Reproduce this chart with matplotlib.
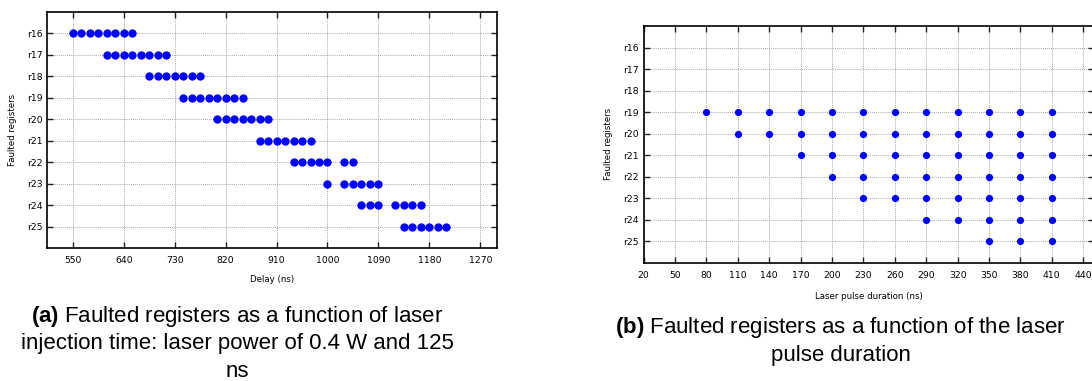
import matplotlib
matplotlib.use("Agg")
import matplotlib.pyplot as plt

plt.rcParams['font.family'] = ['DejaVu Sans']
plt.rcParams['mathtext.fontset'] = 'custom'
plt.rcParams['mathtext.rm'] = 'Liberation Sans'
plt.rcParams['mathtext.bf'] = 'Liberation Sans:bold'

registers = ['r16', 'r17', 'r18', 'r19', 'r20', 'r21', 'r22', 'r23', 'r24', 'r25']

# (a) delay (ns) at which each register was faulted
delay_hits = {
    'r16': [550, 565, 580, 595, 610, 625, 640, 655],
    'r17': [610, 625, 640, 655, 670, 685, 700, 715],
    'r18': [685, 700, 715, 730, 745, 760, 775],
    'r19': [745, 760, 775, 790, 805, 820, 835, 850],
    'r20': [805, 820, 835, 850, 865, 880, 895],
    'r21': [880, 895, 910, 925, 940, 955, 970],
    'r22': [940, 955, 970, 985, 1000, 1030, 1045],
    'r23': [1000, 1030, 1045, 1060, 1075, 1090],
    'r24': [1060, 1075, 1090, 1120, 1135, 1150, 1165],
    'r25': [1135, 1150, 1165, 1180, 1195, 1210],
}
delay_ticks = [550, 640, 730, 820, 910, 1000, 1090, 1180, 1270]

# (b) pulse duration (ns) at which each register was faulted
pulse_hits = {
    'r16': [],
    'r17': [],
    'r18': [],
    'r19': [80, 110, 140, 170, 200, 230, 260, 290, 320, 350, 380, 410],
    'r20': [110, 140, 170, 200, 230, 260, 290, 320, 350, 380, 410],
    'r21': [170, 200, 230, 260, 290, 320, 350, 380, 410],
    'r22': [200, 230, 260, 290, 320, 350, 380, 410],
    'r23': [230, 260, 290, 320, 350, 380, 410],
    'r24': [290, 320, 350, 380, 410],
    'r25': [350, 380, 410],
}
pulse_ticks = [20, 50, 80, 110, 140, 170, 200, 230, 260, 290, 320, 350, 380, 410, 440]

W, H = 1092, 381
fig = plt.figure(figsize=(W / 100, H / 100), dpi=100)

def px_axes(l, t, r, b):
    return fig.add_axes([l / W, 1 - b / H, (r - l) / W, (b - t) / H])

ax1 = px_axes(47.3, 12, 497.3, 248)
ax2 = px_axes(643.5, 26, 1093.7, 262.7)

def style(ax, hits, ticks, xlim, xlabel, xlabel_y, ylabel_x, msize):
    for i, reg in enumerate(registers):
        xs = hits[reg]
        ax.plot(xs, [i] * len(xs), 'o', color='#0000ff', markersize=msize,
                markeredgewidth=0, zorder=3)
    ax.set_xlim(*xlim)
    ax.set_ylim(len(registers), -1)
    ax.set_xticks(ticks)
    ax.set_yticks(range(len(registers)))
    ax.set_yticklabels(registers)
    ax.grid(True, color='#aaaaaa', linestyle=(0, (1, 1)), linewidth=0.7)
    ax.set_axisbelow(True)
    ax.tick_params(direction='in', length=4, width=1, top=True, right=True,
                   labelsize=6.7, color='#222222')
    ax.tick_params(axis='x', pad=6)
    ax.tick_params(axis='y', pad=3.6)
    for s in ax.spines.values():
        s.set_linewidth(1.2)
        s.set_color('black')
    ax.set_xlabel(xlabel, fontsize=6.2)
    ax.set_ylabel('Faulted registers', fontsize=6.2)
    ax.xaxis.set_label_coords(0.5, xlabel_y)
    ax.yaxis.set_label_coords(ylabel_x, 0.5)

style(ax1, delay_hits, delay_ticks, (505, 1300), 'Delay (ns)', -0.114, -0.068, 6.0)
style(ax2, pulse_hits, pulse_ticks, (20, 450), 'Laser pulse duration (ns)', -0.1225, -0.067, 5.2)

cap = dict(ha='center', va='baseline', fontsize=16, family='Liberation Sans')
fig.text(237 / W, 1 - 322 / H, r'$\mathbf{(a)}$ Faulted registers as a function of laser', **cap)
fig.text(237 / W, 1 - 349.5 / H, 'injection time: laser power of 0.4 W and 125', **cap)
fig.text(237 / W, 1 - 377 / H, 'ns', **cap)
fig.text(840.5 / W, 1 - 333 / H, r'$\mathbf{(b)}$ Faulted registers as a function of the laser', **cap)
fig.text(840.5 / W, 1 - 360.5 / H, 'pulse duration', **cap)

fig.savefig('out.png', dpi=100)
